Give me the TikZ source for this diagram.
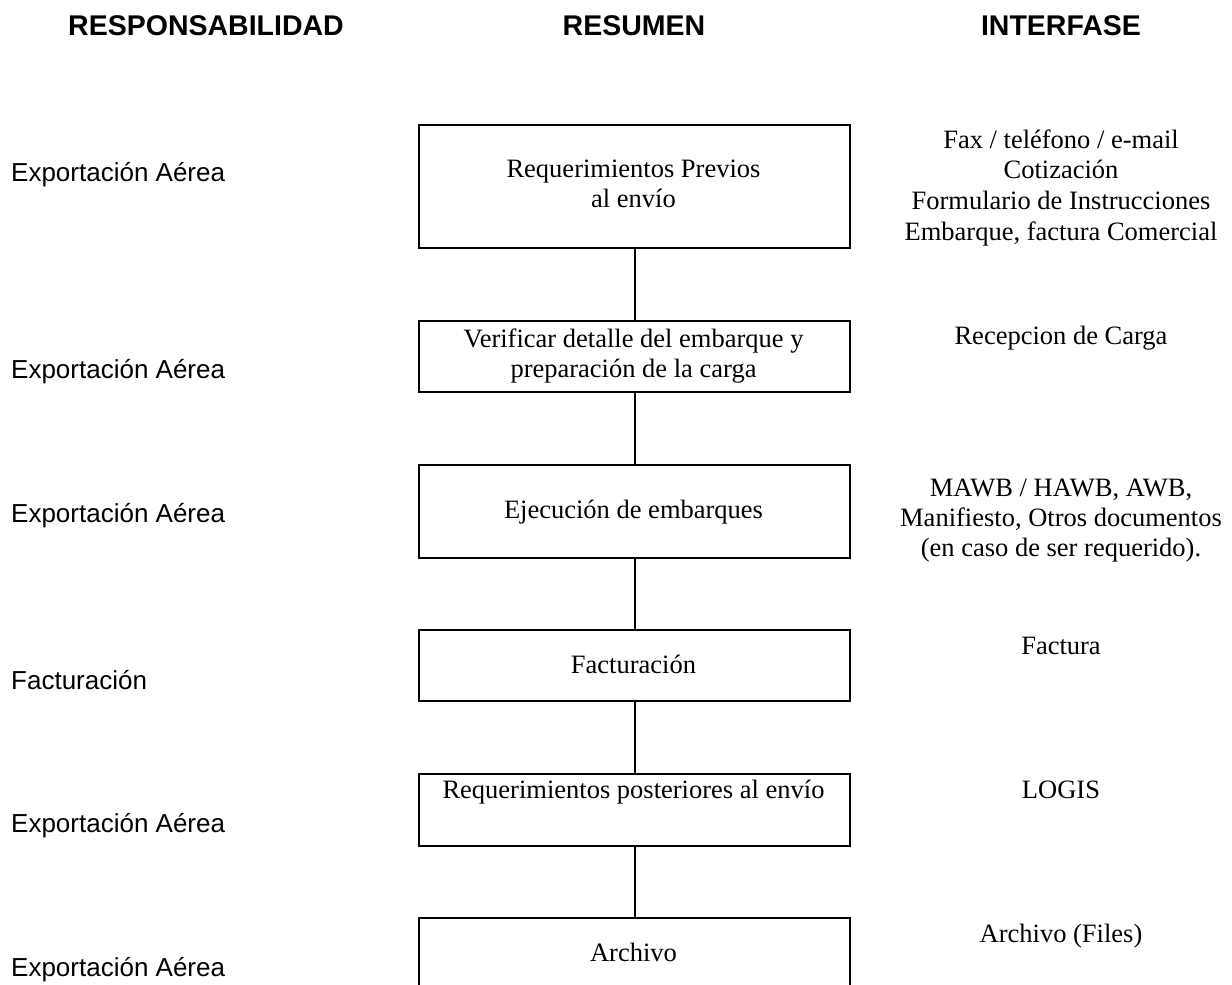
\documentclass[tikz,border=0pt]{standalone}
\usepackage{fontspec}
\setmainfont{Liberation Serif}
\newfontfamily\arialf{Liberation Sans}
\begin{document}
\begin{tikzpicture}[x=1pt,y=-1pt,
  hdr/.style={font=\arialf\bfseries\fontsize{28.5}{34}\selectfont, anchor=base, inner sep=0pt},
  lbl/.style={font=\arialf\fontsize{26}{30}\selectfont, anchor=base west, inner sep=0pt},
  txt/.style={font=\fontsize{26.5}{30.6}\selectfont, anchor=base, inner sep=0pt},
  boxs/.style={draw, line width=2pt, inner sep=0pt, anchor=north west, minimum width=431pt},
  conn/.style={line width=2pt}]
\clip (0,0) rectangle (1232,985);
\fill[white] (0,0) rectangle (1232,985);
% headers
\node[hdr] (h1) at (206,35) {RESPONSABILIDAD};
\node[hdr] (h2) at (634,35) {RESUMEN};
\node[hdr] (h3) at (1061,35) {INTERFASE};
% left labels
\node[lbl] (l1) at (11,181) {Exportación Aérea};
\node[lbl] (l2) at (11,378) {Exportación Aérea};
\node[lbl] (l3) at (11,522) {Exportación Aérea};
\node[lbl] (l4) at (11,689.5) {Facturación};
\node[lbl] (l5) at (11,832) {Exportación Aérea};
\node[lbl] (l6) at (11,976.5) {Exportación Aérea};
% boxes
\node[boxs, minimum height=123pt] (b1) at (418,123.5) {};
\node[boxs, minimum height=71pt] (b2) at (418,320) {};
\node[boxs, minimum height=92.5pt] (b3) at (418,464) {};
\node[boxs, minimum height=71pt] (b4) at (418,629) {};
\node[boxs, minimum height=72.3pt] (b5) at (418,772.7) {};
\node[boxs, minimum height=120pt] (b6) at (418,917) {};
% box texts
\node[txt] (t1a) at (633.5,177) {Requerimientos Previos};
\node[txt] (t1b) at (633.5,207.5) {al envío};
\node[txt] (t2a) at (633.5,347) {Verificar detalle del embarque y};
\node[txt] (t2b) at (633.5,377.5) {preparación de la carga};
\node[txt] (t3) at (633.5,518.5) {Ejecución de embarques};
\node[txt] (t4) at (633.5,673.5) {Facturación};
\node[txt] (t5) at (633.5,798) {Requerimientos posteriores al envío};
\node[txt] (t6) at (633.5,961.5) {Archivo};
% connectors
\draw[conn] (b1.south) -- (b2.north);
\draw[conn] (b2.south) -- (b3.north);
\draw[conn] (b3.south) -- (b4.north);
\draw[conn] (b4.south) -- (b5.north);
\draw[conn] (b5.south) -- (b6.north);
% interface column
\node[txt] (r1a) at (1061,148) {Fax / teléfono / e-mail};
\node[txt] (r1b) at (1061,178.7) {Cotización};
\node[txt] (r1c) at (1061,209.3) {Formulario de Instrucciones};
\node[txt] (r1d) at (1061,240) {Embarque, factura Comercial};
\node[txt] (r2) at (1061,344) {Recepcion de Carga};
\node[txt] (r3a) at (1061,496.5) {MAWB / HAWB, AWB,};
\node[txt] (r3b) at (1061,526.5) {Manifiesto, Otros documentos};
\node[txt] (r3c) at (1061,556.5) {(en caso de ser requerido).};
\node[txt] (r4) at (1061,654) {Factura};
\node[txt] (r5) at (1061,798) {LOGIS};
\node[txt] (r6) at (1061,942) {Archivo (Files)};
\end{tikzpicture}
\end{document}
